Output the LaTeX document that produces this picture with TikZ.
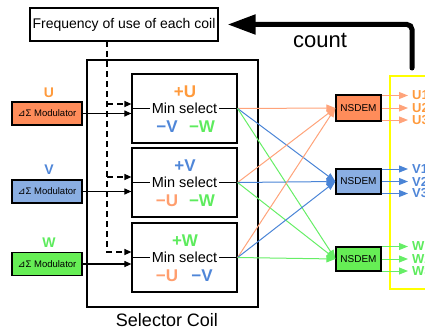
\documentclass[tikz,border=0pt]{standalone}
\usepackage{fontspec}
\setmainfont{Liberation Sans}
\newfontfamily\djv{DejaVu Sans}
\usetikzlibrary{arrows.meta,calc}
\definecolor{uorange}{HTML}{FF9A3C}
\definecolor{usalmon}{HTML}{FF9E6E}
\definecolor{ufill}{HTML}{FF8C5A}
\definecolor{vblue}{HTML}{4F86D8}
\definecolor{vfill}{HTML}{8AAEE2}
\definecolor{wgreen}{HTML}{5DEB5D}
\definecolor{wfill}{HTML}{66EE55}
\definecolor{uline}{HTML}{FFA37A}
\definecolor{vline}{HTML}{4A84D6}
\definecolor{wline}{HTML}{66EE66}
\definecolor{ybox}{HTML}{FFFF00}
\tikzset{
  modbox/.style={draw=black, line width=1.2pt, minimum width=70pt, minimum height=23pt, inner sep=0pt, font=\fontsize{9.5}{11}\selectfont},
  nsbox/.style={draw=black, line width=1.2pt, minimum width=45pt, minimum height=25pt, inner sep=0pt, font=\fontsize{10}{12}\selectfont},
  minbox/.style={draw=black, line width=1.2pt, minimum width=105pt, minimum height=69pt, inner sep=0pt},
  mintxt/.style={fill=white, inner sep=1.5pt, font=\fontsize{14.5}{16}\selectfont},
  sign/.style={font=\bfseries\fontsize{17}{19}\selectfont, inner sep=0pt},
  phase/.style={font=\bfseries\fontsize{14}{16}\selectfont, inner sep=0pt},
  outlbl/.style={font=\bfseries\fontsize{13}{15}\selectfont, inner sep=0pt, anchor=west},
  blkarr/.style={line width=1.1pt, -{Triangle[length=7pt,width=6pt]}},
  dsh/.style={line width=1.2pt, dash pattern=on 6pt off 4pt, -{Triangle[length=7pt,width=6pt]}},
  col/.style={line width=1pt, draw=#1, -{Triangle[length=9pt,width=7pt,fill=#1]}},
}
\begin{document}
\begin{tikzpicture}[x=1pt,y=-1pt]
\useasboundingbox (0,0) rectangle (425,329);

% yellow output frame
\draw[draw=ybox, line width=2pt] (390,76) rectangle (445,289);

% frequency box
\node[draw=black, line width=1.2pt, minimum width=188pt, minimum height=33pt, inner sep=0pt,
      font=\fontsize{14}{16}\selectfont] (freq) at (124,24.5) {Frequency of use of each coil};

% selector coil outer box
\node[draw=black, line width=1.3pt, minimum width=171pt, minimum height=247pt, inner sep=0pt] (sel) at (172.5,183.5) {};
\node[font=\fontsize{18}{21}\selectfont] (sellbl) at (167,320) {Selector Coil};

% min select boxes
\node[minbox] (b1) at (184.5,108.5) {};
\node[minbox] (b2) at (184.5,182.5) {};
\node[minbox] (b3) at (184.5,257.5) {};
\foreach \b in {b1,b2,b3}{\draw[line width=1.2pt] (\b.west) -- (\b.east);}
\node[mintxt] (t1) at (b1.center) {Min select};
\node[mintxt] (t2) at (b2.center) {Min select};
\node[mintxt] (t3) at (b3.center) {Min select};
\node[sign, text=uorange] (p1) at (185,92) {+U};
\node[sign, text=vblue]   (m1a) at (167,127) {−V};
\node[sign, text=wgreen]  (m1b) at (202,127) {−W};
\node[sign, text=vblue]   (p2) at (185,166) {+V};
\node[sign, text=usalmon] (m2a) at (167,201) {−U};
\node[sign, text=wgreen]  (m2b) at (202,201) {−W};
\node[sign, text=wgreen]  (p3) at (185,241) {+W};
\node[sign, text=usalmon] (m3a) at (167,276) {−U};
\node[sign, text=vblue]   (m3b) at (202,276) {−V};

% modulators
\node[modbox, fill=ufill] (mu) at (47,113.5) {{\djv ⊿}Σ Modulator};
\node[modbox, fill=vfill] (mv) at (47,191.5) {{\djv ⊿}Σ Modulator};
\node[modbox, fill=wfill] (mw) at (47,264) {{\djv ⊿}Σ Modulator};
\node[phase, text=uorange] (lu) at (49,93) {U};
\node[phase, text=vblue]   (lv) at (49,170) {V};
\node[phase, text=wgreen]  (lw) at (49,243) {W};
\draw[blkarr] (mu.east) -- (mu.east -| b1.west);
\draw[blkarr] (mv.east) -- (mv.east -| b2.west);
\draw[blkarr] (mw.east) -- (mw.east -| b3.west);

% dashed feedback
\coordinate (dtop) at (107,41);
\coordinate (d1) at (107,104);
\coordinate (d2) at (107,177);
\coordinate (d3) at (107,252);
\draw[dsh] (dtop) -- (d3) -- (d3 -| b3.west);
\draw[dsh] (d1) -- (d1 -| b1.west);
\draw[dsh] (d2) -- (d2 -| b2.west);

% NSDEM
\node[nsbox, fill=ufill, minimum height=26pt] (nu) at (358.5,108) {NSDEM};
\node[nsbox, fill=vfill] (nv) at (358.5,181.5) {NSDEM};
\node[nsbox, fill=wfill, minimum height=24pt] (nw) at (358.5,259) {NSDEM};

% cross connections
\foreach \b in {b1,b2,b3}{
  \draw[col=uline] (\b.east) -- (nu.west);
  \draw[col=vline] (\b.east) -- (nv.west);
  \draw[col=wline] (\b.east) -- (nw.west);
}

% outputs
\foreach \n/\c/\t/\l in {nu/uline/uorange/U, nv/vline/vblue/V, nw/wline/wgreen/W}{
  \foreach \dy/\k in {12.5/1, 0/2, -12/3}{
    \coordinate (o\l\k) at ([yshift=\dy pt]\n.east);
    \coordinate (e\l\k) at ([yshift=\dy pt]408,0 |- \n.east);
    \draw[col=\c] (o\l\k) -- (e\l\k);
    \node[outlbl, text=\t] (lab\l\k) at ([xshift=4pt]e\l\k) {\l\k};
  }
}

% count arrow
\coordinate (cs) at (412,68);
\draw[line width=5pt, line cap=round, rounded corners=5pt, -{Triangle[length=28pt,width=19pt]}]
  (cs) |- ([xshift=9pt]freq.east);
\node[font=\fontsize{22}{26}\selectfont, inner sep=0pt] (cnt) at (320,40) {count};
\end{tikzpicture}
\end{document}
